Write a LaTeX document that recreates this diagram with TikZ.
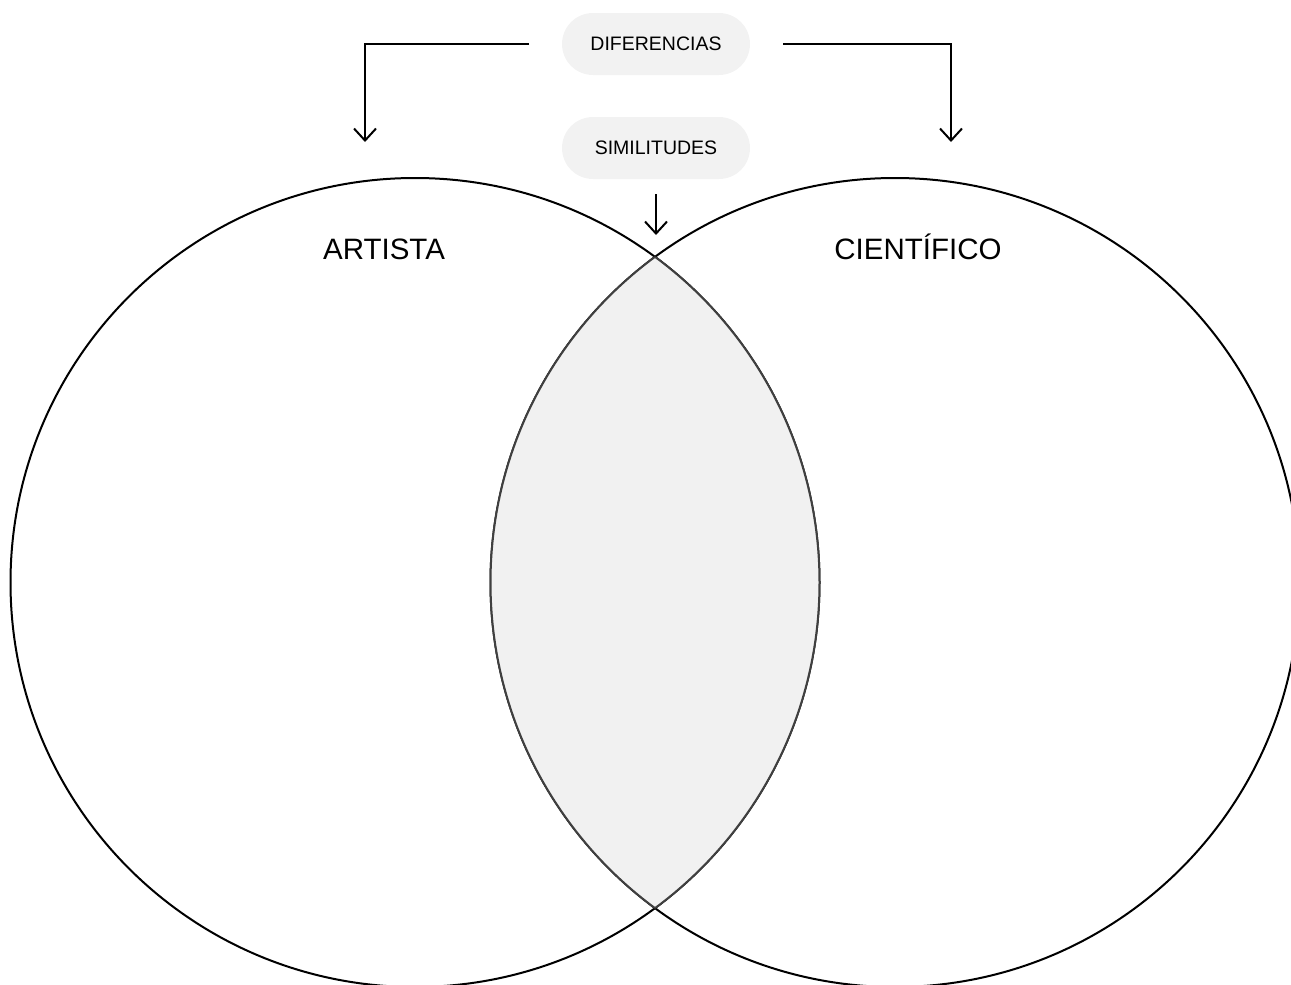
\documentclass[tikz,border=0pt]{standalone}
\usepackage{fontspec}
\setmainfont{Liberation Sans}
\usetikzlibrary{arrows.meta, positioning}
\definecolor{pillgray}{RGB}{242,242,242}
\definecolor{lensgray}{RGB}{241,241,241}

\begin{document}
\begin{tikzpicture}[x=1pt, y=-1pt, line width=2pt,
	>={Straight Barb[length=12pt, width=22pt]},
	pill/.style={rounded corners=31pt, fill=pillgray, minimum width=188pt, minimum height=62pt, inner sep=0pt, font=\fontsize{19.5}{23}\selectfont},
	ring/.style={circle, draw, minimum size=809pt, inner sep=0pt},
	title/.style={anchor=base, inner sep=0pt, font=\fontsize{29.5}{35}\selectfont}]
	\useasboundingbox (0,0) rectangle (1291,985);
	\clip (0,0) rectangle (1291,985);

	% the two sets
	\node[ring] (artista) at (415,582.5) {};
	\node[ring] (cientifico) at (895,582.5) {};

	% common part
	\begin{scope}
		\clip (artista.center) circle (404.5);
		\filldraw[fill=lensgray, draw=black!75] (cientifico.center) circle (404.5);
	\end{scope}
	\begin{scope}
		\clip (cientifico.center) circle (404.5);
		\draw[black!75] (artista.center) circle (404.5);
	\end{scope}

	\node[title] (artlabel) at (384,259) {ARTISTA};
	\node[title] (cienlabel) at (918,259) {CIENTÍFICO};

	\node[pill] (dif) at (656,44) {DIFERENCIAS};
	\node[pill, below=40pt of dif] (sim) {SIMILITUDES};

	\coordinate (difL) at (365,142);
	\coordinate (difR) at (951,142);
	\coordinate (simT) at (656,235);

	\draw[->] ([xshift=-32pt]dif.west) -| (difL);
	\draw[->] ([xshift=32pt]dif.east) -| (difR);
	\draw[->] ([yshift=-14pt]sim.south) -- (simT);
\end{tikzpicture}
\end{document}
